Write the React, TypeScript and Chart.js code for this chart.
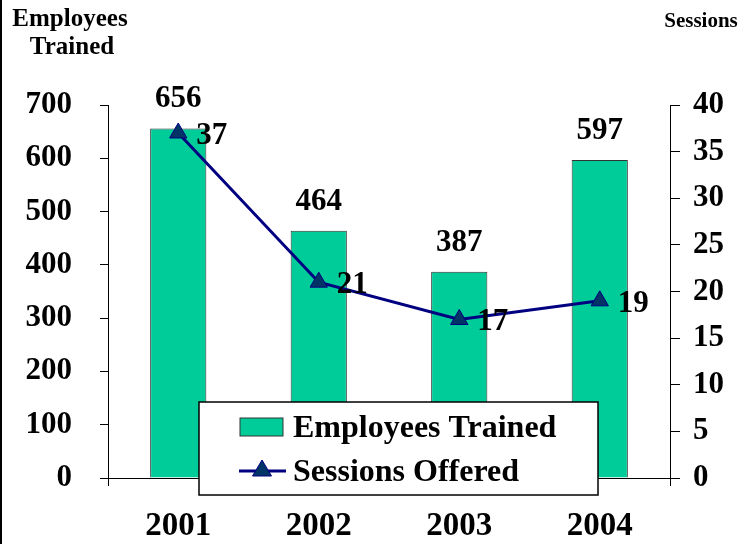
import React, { useEffect, useRef } from "react";
import { Chart, registerables } from "chart.js";

Chart.register(...registerables);

const years = ["2001", "2002", "2003", "2004"];
const employeesTrained = [656, 464, 387, 597];
const sessionsOffered = [37, 21, 17, 19];
const leftTicks = { min: 0, max: 700, step: 100 };
const rightTicks = { min: 0, max: 40, step: 5 };
const leftTitle = ["Employees", "Trained"];
const rightTitle = "Sessions";
const seriesNames = ["Employees Trained", "Sessions Offered"];

const FONT = '"Liberation Serif", "Times New Roman", serif';
const BAR_COLOR = "#00CC99";
const LINE_COLOR = "#000080";
const MARKER_FILL = "#003366";

function drawTriangle(ctx: CanvasRenderingContext2D, x: number, y: number, r: number) {
  ctx.beginPath();
  ctx.moveTo(x, y - r);
  ctx.lineTo(x + r * 0.95, y + r * 0.6);
  ctx.lineTo(x - r * 0.95, y + r * 0.6);
  ctx.closePath();
  ctx.fillStyle = MARKER_FILL;
  ctx.fill();
  ctx.strokeStyle = LINE_COLOR;
  ctx.lineWidth = 1;
  ctx.stroke();
}

const decorPlugin = {
  id: "decor",
  afterDatasetsDraw(chart: any) {
    const ctx = chart.ctx as CanvasRenderingContext2D;
    ctx.save();
    ctx.fillStyle = "#000";
    ctx.font = `bold 31px ${FONT}`;
    ctx.textBaseline = "middle";
    const barMeta = chart.getDatasetMeta(0);
    barMeta.data.forEach((el: any, i: number) => {
      ctx.textAlign = "center";
      ctx.fillText(String(employeesTrained[i]), el.x, el.y - 29);
    });
    const lineMeta = chart.getDatasetMeta(1);
    lineMeta.data.forEach((el: any, i: number) => {
      ctx.textAlign = "left";
      ctx.fillText(String(sessionsOffered[i]), el.x + 18, el.y + 3);
    });
    ctx.restore();
  },
  afterDraw(chart: any) {
    const ctx = chart.ctx as CanvasRenderingContext2D;
    const ca = chart.chartArea;
    ctx.save();
    ctx.fillStyle = "#000";
    ctx.textBaseline = "middle";
    ctx.textAlign = "center";
    ctx.font = `bold 25px ${FONT}`;
    ctx.fillText(leftTitle[0], 70, 20);
    ctx.fillText(leftTitle[1], 72, 48);
    ctx.font = `bold 21px ${FONT}`;
    ctx.fillText(rightTitle, 701, 22);
    ctx.fillRect(0, 0, 2, chart.height);

    const lx = ca.left + 91;
    const ly = ca.bottom - 76;
    const lw = 399;
    const lh = 93;
    ctx.fillStyle = "#fff";
    ctx.fillRect(lx, ly, lw, lh);
    ctx.strokeStyle = "#000";
    ctx.lineWidth = 1.5;
    ctx.strokeRect(lx, ly, lw, lh);
    ctx.fillStyle = BAR_COLOR;
    ctx.fillRect(lx + 41, ly + 16, 43, 18);
    ctx.strokeStyle = "#333";
    ctx.lineWidth = 1;
    ctx.strokeRect(lx + 41, ly + 16, 43, 18);
    ctx.strokeStyle = LINE_COLOR;
    ctx.lineWidth = 3;
    ctx.beginPath();
    ctx.moveTo(lx + 40, ly + 69);
    ctx.lineTo(lx + 87, ly + 69);
    ctx.stroke();
    drawTriangle(ctx, lx + 63, ly + 68, 10);
    ctx.fillStyle = "#000";
    ctx.font = `bold 32px ${FONT}`;
    ctx.textAlign = "left";
    ctx.textBaseline = "middle";
    ctx.fillText(seriesNames[0], lx + 94, ly + 27);
    ctx.fillText(seriesNames[1], lx + 94, ly + 71);
    ctx.restore();
  },
};

export default function App() {
  const canvasRef = useRef<HTMLCanvasElement | null>(null);

  useEffect(() => {
    const canvas = canvasRef.current;
    if (!canvas) return;
    const chart = new Chart(canvas, {
      type: "bar",
      data: {
        labels: years,
        datasets: [
          {
            type: "bar",
            label: seriesNames[0],
            data: employeesTrained,
            yAxisID: "y",
            backgroundColor: BAR_COLOR,
            borderColor: "#333",
            borderWidth: 1,
            barPercentage: 0.4,
            categoryPercentage: 1,
            order: 2,
          },
          {
            type: "line",
            label: seriesNames[1],
            data: sessionsOffered,
            yAxisID: "y1",
            borderColor: LINE_COLOR,
            borderWidth: 3,
            pointStyle: "triangle",
            pointRadius: 10,
            pointBackgroundColor: MARKER_FILL,
            pointBorderColor: LINE_COLOR,
            pointBorderWidth: 1,
            tension: 0,
            order: 1,
          } as any,
        ],
      },
      options: {
        responsive: false,
        animation: false,
        layout: { padding: { top: 105, left: 0, right: 0, bottom: 0 } },
        plugins: {
          legend: { display: false },
          tooltip: { enabled: false },
          title: { display: false },
        },
        scales: {
          x: {
            offset: true,
            grid: {
              display: true,
              drawOnChartArea: false,
              drawTicks: true,
              tickLength: 8,
              color: "#000",
              offset: true,
            },
            border: { display: true, color: "#000", width: 1 },
            ticks: {
              color: "#000",
              font: { family: FONT, size: 33, weight: "bold" },
              padding: 21,
              maxRotation: 0,
            },
            afterFit(scale: any) {
              scale.height = 66;
            },
          },
          y: {
            position: "left",
            min: leftTicks.min,
            max: leftTicks.max,
            grid: {
              display: true,
              drawOnChartArea: false,
              drawTicks: true,
              tickLength: 8,
              color: "#000",
            },
            border: { display: true, color: "#000", width: 1 },
            ticks: {
              stepSize: leftTicks.step,
              color: "#000",
              font: { family: FONT, size: 31, weight: "bold" },
              padding: 28,
            },
            afterFit(scale: any) {
              scale.width = 108;
            },
          },
          y1: {
            position: "right",
            min: rightTicks.min,
            max: rightTicks.max,
            grid: {
              display: true,
              drawOnChartArea: false,
              drawTicks: true,
              tickLength: 10,
              color: "#000",
            },
            border: { display: true, color: "#000", width: 1 },
            ticks: {
              stepSize: rightTicks.step,
              color: "#000",
              font: { family: FONT, size: 31, weight: "bold" },
              padding: 13,
            },
            afterFit(scale: any) {
              scale.width = 78;
            },
          },
        },
      } as any,
      plugins: [decorPlugin],
    });
    return () => chart.destroy();
  }, []);

  return (
    <div style={{ position: "absolute", left: 0, top: 0, width: 748, height: 544, background: "#fff" }}>
      <canvas ref={canvasRef} width={748} height={544} />
    </div>
  );
}
